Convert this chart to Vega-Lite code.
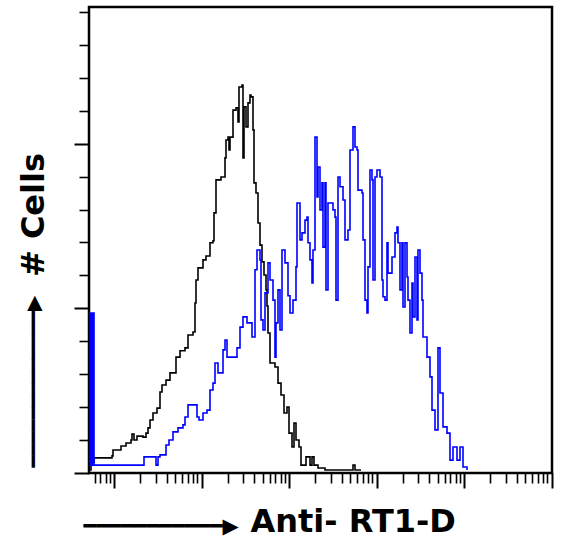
{
  "$schema": "https://vega.github.io/schema/vega-lite/v6.json",
  "autosize": "none",
  "width": 463,
  "height": 466,
  "padding": {"left": 89, "top": 7, "right": 10, "bottom": 77},
  "background": "white",
  "config": {
    "view": {"stroke": "#000", "strokeWidth": 2.5},
    "axis": {"domain": false, "grid": false, "labels": false, "tickColor": "#000"}
  },
  "datasets": {
    "control": [
      {"channel": 0, "count": 0.9}, {"channel": 2, "count": 3.3}, {"channel": 5, "count": 4.6}, {"channel": 23, "count": 5.2},
      {"channel": 24, "count": 7.0}, {"channel": 32, "count": 8.2}, {"channel": 37, "count": 9.1}, {"channel": 42, "count": 10.0},
      {"channel": 43, "count": 11.8}, {"channel": 45, "count": 10.0}, {"channel": 48, "count": 11.2}, {"channel": 54, "count": 10.9},
      {"channel": 57, "count": 12.1}, {"channel": 59, "count": 13.7}, {"channel": 61, "count": 16.1}, {"channel": 64, "count": 18.2},
      {"channel": 68, "count": 19.7}, {"channel": 71, "count": 24.6}, {"channel": 73, "count": 26.7}, {"channel": 77, "count": 28.2},
      {"channel": 81, "count": 30.4}, {"channel": 87, "count": 35.2}, {"channel": 91, "count": 37.1}, {"channel": 96, "count": 38.0},
      {"channel": 99, "count": 41.9}, {"channel": 104, "count": 42.8}, {"channel": 106, "count": 51.6}, {"channel": 107, "count": 58.6},
      {"channel": 109, "count": 62.3}, {"channel": 114, "count": 64.7}, {"channel": 117, "count": 65.9}, {"channel": 121, "count": 69.9},
      {"channel": 124, "count": 70.5}, {"channel": 125, "count": 79.0}, {"channel": 127, "count": 89.0}, {"channel": 132, "count": 89.9},
      {"channel": 136, "count": 95.7}, {"channel": 137, "count": 101.1}, {"channel": 139, "count": 102.0}, {"channel": 140, "count": 98.1},
      {"channel": 141, "count": 102.0}, {"channel": 144, "count": 110.2}, {"channel": 147, "count": 110.9}, {"channel": 149, "count": 106.6},
      {"channel": 150, "count": 117.2}, {"channel": 153, "count": 117.8}, {"channel": 154, "count": 95.7}, {"channel": 155, "count": 111.2},
      {"channel": 157, "count": 105.1}, {"channel": 159, "count": 112.4}, {"channel": 161, "count": 114.8}, {"channel": 162, "count": 114.2},
      {"channel": 164, "count": 104.2}, {"channel": 165, "count": 88.1}, {"channel": 167, "count": 85.0}, {"channel": 169, "count": 75.9},
      {"channel": 171, "count": 69.2}, {"channel": 173, "count": 64.1}, {"channel": 175, "count": 60.1}, {"channel": 177, "count": 55.6},
      {"channel": 178, "count": 50.7}, {"channel": 179, "count": 42.5}, {"channel": 181, "count": 33.4}, {"channel": 186, "count": 32.2},
      {"channel": 189, "count": 27.3}, {"channel": 192, "count": 23.7}, {"channel": 195, "count": 18.2}, {"channel": 198, "count": 20.0},
      {"channel": 200, "count": 12.1}, {"channel": 203, "count": 7.9}, {"channel": 205, "count": 15.2}, {"channel": 207, "count": 10.0},
      {"channel": 210, "count": 7.9}, {"channel": 212, "count": 2.4}, {"channel": 217, "count": 4.9}, {"channel": 221, "count": 2.4},
      {"channel": 223, "count": 4.9}, {"channel": 225, "count": 2.4}, {"channel": 229, "count": 1.5}, {"channel": 236, "count": 0.9},
      {"channel": 263, "count": 0.9}, {"channel": 264, "count": 2.4}, {"channel": 266, "count": 0.9}, {"channel": 272, "count": 0.9}
    ],
    "stained": [
      {"channel": 0, "count": 48.6}, {"channel": 1, "count": 2.4}, {"channel": 2, "count": 48.6}, {"channel": 3, "count": 2.4},
      {"channel": 4, "count": 48.6}, {"channel": 5, "count": 2.4}, {"channel": 55, "count": 4.9}, {"channel": 67, "count": 2.4},
      {"channel": 69, "count": 4.9}, {"channel": 71, "count": 5.5}, {"channel": 77, "count": 8.5}, {"channel": 80, "count": 10.0},
      {"channel": 84, "count": 12.5}, {"channel": 89, "count": 13.7}, {"channel": 94, "count": 14.6}, {"channel": 96, "count": 17.0},
      {"channel": 99, "count": 20.7}, {"channel": 108, "count": 17.0}, {"channel": 110, "count": 16.1}, {"channel": 114, "count": 18.2},
      {"channel": 118, "count": 19.1}, {"channel": 121, "count": 25.2}, {"channel": 124, "count": 27.3}, {"channel": 126, "count": 33.4},
      {"channel": 129, "count": 30.4}, {"channel": 134, "count": 37.4}, {"channel": 136, "count": 40.4}, {"channel": 138, "count": 35.2},
      {"channel": 148, "count": 38.0}, {"channel": 151, "count": 44.3}, {"channel": 154, "count": 47.4}, {"channel": 158, "count": 45.6},
      {"channel": 163, "count": 41.3}, {"channel": 166, "count": 61.7}, {"channel": 168, "count": 67.7}, {"channel": 171, "count": 64.7},
      {"channel": 172, "count": 46.5}, {"channel": 174, "count": 43.4}, {"channel": 176, "count": 54.7}, {"channel": 179, "count": 63.8},
      {"channel": 181, "count": 58.6}, {"channel": 184, "count": 52.5}, {"channel": 186, "count": 35.2}, {"channel": 187, "count": 45.6},
      {"channel": 189, "count": 55.6}, {"channel": 191, "count": 43.4}, {"channel": 193, "count": 67.7}, {"channel": 196, "count": 63.8},
      {"channel": 199, "count": 53.8}, {"channel": 201, "count": 48.6}, {"channel": 204, "count": 52.5}, {"channel": 207, "count": 62.6},
      {"channel": 208, "count": 82.0}, {"channel": 211, "count": 70.8}, {"channel": 213, "count": 72.9}, {"channel": 216, "count": 76.8},
      {"channel": 218, "count": 77.7}, {"channel": 219, "count": 69.9}, {"channel": 221, "count": 64.7}, {"channel": 223, "count": 57.7},
      {"channel": 224, "count": 67.7}, {"channel": 226, "count": 102.0}, {"channel": 228, "count": 83.8}, {"channel": 229, "count": 92.9},
      {"channel": 231, "count": 79.9}, {"channel": 233, "count": 88.1}, {"channel": 234, "count": 68.6}, {"channel": 236, "count": 88.1},
      {"channel": 237, "count": 55.6}, {"channel": 239, "count": 82.0}, {"channel": 244, "count": 79.9}, {"channel": 246, "count": 77.7},
      {"channel": 247, "count": 52.5}, {"channel": 249, "count": 89.9}, {"channel": 251, "count": 86.9}, {"channel": 254, "count": 82.9},
      {"channel": 256, "count": 70.8}, {"channel": 259, "count": 73.8}, {"channel": 261, "count": 98.1}, {"channel": 264, "count": 105.1},
      {"channel": 266, "count": 99.0}, {"channel": 268, "count": 98.1}, {"channel": 269, "count": 85.9}, {"channel": 273, "count": 85.0},
      {"channel": 274, "count": 70.8}, {"channel": 276, "count": 52.5}, {"channel": 278, "count": 48.6}, {"channel": 279, "count": 62.6},
      {"channel": 281, "count": 92.0}, {"channel": 283, "count": 89.0}, {"channel": 284, "count": 58.6}, {"channel": 286, "count": 89.9},
      {"channel": 288, "count": 92.0}, {"channel": 291, "count": 89.9}, {"channel": 293, "count": 58.6}, {"channel": 294, "count": 53.5},
      {"channel": 296, "count": 52.5}, {"channel": 298, "count": 69.9}, {"channel": 299, "count": 60.7}, {"channel": 303, "count": 65.6},
      {"channel": 306, "count": 72.9}, {"channel": 308, "count": 74.7}, {"channel": 309, "count": 69.9}, {"channel": 311, "count": 55.6},
      {"channel": 313, "count": 69.9}, {"channel": 314, "count": 50.4}, {"channel": 316, "count": 69.9}, {"channel": 318, "count": 59.5},
      {"channel": 319, "count": 52.5}, {"channel": 321, "count": 42.5}, {"channel": 323, "count": 57.7}, {"channel": 324, "count": 47.4},
      {"channel": 326, "count": 65.6}, {"channel": 328, "count": 46.5}, {"channel": 329, "count": 67.7}, {"channel": 331, "count": 60.7},
      {"channel": 333, "count": 52.5}, {"channel": 334, "count": 41.3}, {"channel": 338, "count": 35.2}, {"channel": 341, "count": 29.2},
      {"channel": 343, "count": 19.1}, {"channel": 346, "count": 13.1}, {"channel": 349, "count": 38.0}, {"channel": 351, "count": 24.3},
      {"channel": 354, "count": 14.0}, {"channel": 358, "count": 12.1}, {"channel": 361, "count": 3.9}, {"channel": 364, "count": 7.9},
      {"channel": 368, "count": 3.9}, {"channel": 371, "count": 7.9}, {"channel": 374, "count": 1.8}, {"channel": 378, "count": 0.9}
    ]
  },
  "resolve": {"axis": {"x": "independent", "y": "independent"}},
  "layer": [
    {
      "data": {"name": "control"},
      "mark": {"type": "line", "interpolate": "step-after", "color": "#000000", "strokeWidth": 1.6},
      "encoding": {
        "x": {
          "field": "channel", "type": "quantitative",
          "scale": {"domain": [0, 463], "nice": false, "zero": false},
          "axis": {
            "orient": "bottom",
            "values": [5.59, 11.45, 16.52, 20.99, 51.34, 66.75, 77.68, 86.16, 93.09, 98.95, 104.02, 108.49, 138.84, 154.25, 165.18, 173.66, 180.59, 186.45, 191.52, 195.99, 226.34, 241.75, 252.68, 261.16, 268.09, 273.95, 279.02, 283.49, 313.84, 329.25, 340.18, 348.66, 355.59, 361.45, 366.52, 370.99, 401.34, 416.75, 427.68, 436.16, 443.09, 448.95, 454.02, 458.49],
            "tickSize": 10, "tickWidth": 1.6,
            "title": "Anti- RT1-D",
            "titleFont": "DejaVu Sans", "titleFontSize": 32, "titleFontWeight": "bold", "titleColor": "#000",
            "titleX": 161, "titleY": 58, "titleAlign": "left", "titleBaseline": "alphabetic", "titleAngle": 0
          }
        },
        "y": {
          "field": "count", "type": "quantitative",
          "scale": {"domain": [0, 141.5], "nice": false, "zero": true},
          "axis": {
            "orient": "left",
            "values": [10, 20, 30, 40, 60, 70, 80, 90, 110, 120, 130, 140],
            "tickSize": 10, "tickWidth": 1.6,
            "title": "# Cells",
            "titleFont": "DejaVu Sans", "titleFontSize": 32, "titleFontWeight": "bold", "titleColor": "#000",
            "titleX": -45.5, "titleY": 207.5, "titleAlign": "center", "titleBaseline": "alphabetic", "titleAngle": -90
          }
        }
      }
    },
    {
      "data": {"name": "stained"},
      "mark": {"type": "line", "interpolate": "step-after", "color": "#0000ff", "strokeWidth": 1.6},
      "encoding": {
        "x": {
          "field": "channel", "type": "quantitative",
          "scale": {"domain": [0, 463], "nice": false, "zero": false},
          "axis": {
            "orient": "bottom",
            "values": [25, 112.5, 200, 287.5, 375, 462.5],
            "tickSize": 15, "tickWidth": 2,
            "title": "━━━━━━━━━━━▶",
            "titleFont": "DejaVu Sans", "titleFontSize": 21, "titleFontWeight": "normal", "titleColor": "#000",
            "titleX": -6, "titleY": 59, "titleAlign": "left", "titleBaseline": "alphabetic", "titleAngle": 0
          }
        },
        "y": {
          "field": "count", "type": "quantitative",
          "scale": {"domain": [0, 141.5], "nice": false, "zero": true},
          "axis": {
            "orient": "left",
            "values": [0, 50, 100],
            "tickSize": 15, "tickWidth": 2,
            "title": "━━━━━━━━━━━━━▶",
            "titleFont": "DejaVu Sans", "titleFontSize": 20, "titleFontWeight": "normal", "titleColor": "#000",
            "titleX": -50, "titleY": 460, "titleAlign": "left", "titleBaseline": "alphabetic", "titleAngle": -90
          }
        }
      }
    }
  ]
}
